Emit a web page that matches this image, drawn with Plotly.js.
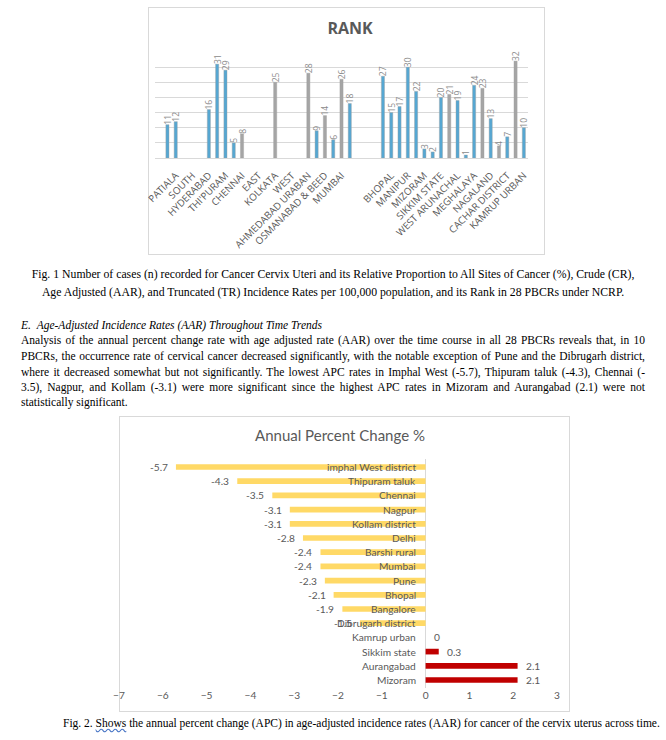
<!DOCTYPE html>
<html>
<head>
<meta charset="utf-8">
<script src="https://cdn.plot.ly/plotly-3.0.1.min.js"></script>
<style>
  html, body { margin:0; padding:0; background:#ffffff; }
  body { width:666px; height:740px; position:relative; overflow:hidden; font-family:"Liberation Serif", "Times New Roman", serif; color:#000; }
  .abs { position:absolute; }
  .frame { position:absolute; border:1px solid #d9d9d9; box-sizing:border-box; pointer-events:none; }
  .txt { position:absolute; font-size:11.5px; line-height:15.5px; white-space:nowrap; }
  .jline { position:absolute; font-size:11.5px; line-height:15.5px; text-align:justify; text-align-last:justify; white-space:normal; }
</style>
</head>
<body>
<div class="frame" style="left:148px;top:7px;width:397px;height:248px;"></div>
<div id="rank" class="abs" style="left:140px;top:7px;width:420px;height:250px;"></div>

<div class="txt" style="left:0;width:666px;top:267px;text-align:center;font-size:11.75px;">Fig. 1 Number of cases (n) recorded for Cancer Cervix Uteri and its Relative Proportion to All Sites of Cancer (%), Crude (CR),</div>
<div class="txt" style="left:0;width:666px;top:285px;text-align:center;font-size:11.75px;">Age Adjusted (AAR), and Truncated (TR) Incidence Rates per 100,000 population, and its Rank in 28 PBCRs under NCRP.</div>

<div class="txt" style="left:21px;top:318px;font-style:italic;">E.&nbsp;&nbsp;Age-Adjusted Incidence Rates (AAR) Throughout Time Trends</div>
<div class="jline" style="left:21px;width:624px;top:333px;">Analysis of the annual percent change rate with age adjusted rate (AAR) over the time course in all 28 PBCRs reveals that, in 10</div>
<div class="jline" style="left:21px;width:624px;top:349px;">PBCRs, the occurrence rate of cervical cancer decreased significantly, with the notable exception of Pune and the Dibrugarh district,</div>
<div class="jline" style="left:21px;width:624px;top:365px;">where it decreased somewhat but not significantly. The lowest APC rates in Imphal West (-5.7), Thipuram taluk (-4.3), Chennai (-</div>
<div class="jline" style="left:21px;width:624px;top:380px;">3.5), Nagpur, and Kollam (-3.1) were more significant since the highest APC rates in Mizoram and Aurangabad (2.1) were not</div>
<div class="txt" style="left:21px;top:395px;">statistically significant.</div>

<div class="frame" style="left:119px;top:416px;width:451px;height:296px;"></div>
<div id="apc" class="abs" style="left:100px;top:416px;width:480px;height:300px;"></div>

<div class="txt" style="left:63px;top:716px;">Fig. 2. <span style="text-decoration:underline wavy #4472c4;">Shows</span> the annual percent change (APC) in age-adjusted incidence rates (AAR) for cancer of the cervix uterus across time.</div>

<script>
// ---------- Chart 1: RANK ----------
const rankSlots = ["", "", "PATIALA", "", "SOUTH", "", "HYDERABAD", "", "THI'PURAM", "", "CHENNAI",
  "", "EAST", "", "KOLKATA", "", "WEST", "", "AHMEDABAD URABAN", "", "OSMANABAD & BEED",
  "", "MUMBAI", "", "", "", "", "", "BHOPAL", "", "MANIPUR",
  "", "MIZORAM", "", "SIKKIM STATE", "", "WEST ARUNACHAL", "", "MEGHALAYA", "", "NAGALAND",
  "", "CACHAR DISTRICT", "", "KAMRUP URBAN"];
const rankValues = [null, 11, 12, null, null, null, 16, 31, 29, 5, 8,
  null, null, null, 25, null, null, null, 28, 9, 14,
  6, 26, 18, null, null, null, 27, 15, 17, 30,
  22, 3, 2, 20, 21, 19, 1, 24, 23, 13,
  4, 7, 32, 10];
const rankGroup = ["", "A", "A", "", "", "", "A", "A", "A", "A", "B",
  "", "", "", "B", "", "", "", "B", "A", "B",
  "A", "B", "A", "", "", "", "A", "A", "A", "A",
  "A", "A", "A", "A", "B", "A", "A", "A", "B", "A",
  "B", "A", "B", "A"];

const groupColor = { A: "#56a7d2", B: "#a5a5a5", "": "#a5a5a5" };
const slotIdx = rankSlots.map((_, i) => i);
const tickIdx = slotIdx.filter(i => rankSlots[i] !== "");

Plotly.newPlot("rank", [{
  type: "bar",
  x: slotIdx,
  y: rankValues,
  width: 0.38,
  marker: { color: rankGroup.map(g => groupColor[g]), line: { color: "#9e9e9e", width: 0.4 } },
  text: rankValues.map(v => v === null ? "" : String(v)),
  textposition: "outside",
  textangle: -90,
  constraintext: "none",
  cliponaxis: false,
  textfont: { family: "Open Sans", size: 8.5, color: "#8a8a8a" },
  hoverinfo: "none"
}], {
  width: 420, height: 250,
  margin: { l: 15, r: 32.3, t: 45.3, b: 98.7 },
  paper_bgcolor: "rgba(0,0,0,0)", plot_bgcolor: "rgba(0,0,0,0)",
  showlegend: false,
  title: { text: "<b>RANK</b>", font: { family: "Open Sans", size: 16, color: "#595959" },
           x: 0.5, xanchor: "center", y: 1 - 21/250, yanchor: "middle", yref: "container" },
  xaxis: { range: [-0.5, rankSlots.length - 0.5], tickmode: "array", tickvals: tickIdx,
           ticktext: tickIdx.map(i => rankSlots[i]), tickangle: -45, showgrid: false, zeroline: false,
           showline: true, linecolor: "#d9d9d9", linewidth: 1, ticks: "", ticklabelstandoff: 7,
           tickfont: { family: "Open Sans", size: 9.8, color: "#595959" } },
  yaxis: { range: [0, 35], dtick: 5, showticklabels: false, gridcolor: "#d9d9d9", gridwidth: 1,
           zeroline: false, showline: false, ticks: "" }
}, { staticPlot: true, displayModeBar: false });

// ---------- Chart 2: Annual Percent Change ----------
const apcCategories = ["imphal West district", "Thipuram taluk", "Chennai", "Nagpur", "Kollam district",
  "Delhi", "Barshi rural", "Mumbai", "Pune", "Bhopal", "Bangalore", "Dibrugarh district",
  "Kamrup urban", "Sikkim state", "Aurangabad", "Mizoram"];
const apcValues = [-5.7, -4.3, -3.5, -3.1, -3.1, -2.8, -2.4, -2.4, -2.3, -2.1, -1.9, -1.5, 0, 0.3, 2.1, 2.1];
const xTicks = [-7, -6, -5, -4, -3, -2, -1, 0, 1, 2, 3];

const labelFont = { family: "Lato", size: 10.2, color: "#595959" };

const catLabels = apcCategories.map(c => ({
  x: 0, y: c, xref: "x", yref: "y", text: c, showarrow: false,
  xanchor: "right", yanchor: "middle", xshift: -8, font: labelFont
}));
const valLabels = apcValues.map((v, i) => ({
  x: v, y: apcCategories[i], xref: "x", yref: "y", text: String(v), showarrow: false,
  xanchor: v < 0 ? "right" : "left", yanchor: "middle", xshift: v < 0 ? -6 : 6, font: labelFont
}));

Plotly.newPlot("apc", [{
  type: "bar",
  orientation: "h",
  y: apcCategories,
  x: apcValues,
  width: 0.4,
  marker: { color: apcValues.map(v => v < 0 ? "#ffd966" : "#c00000") },
  hoverinfo: "none"
}], {
  width: 480, height: 300,
  margin: { l: 19, r: 23, t: 43, b: 28 },
  paper_bgcolor: "rgba(0,0,0,0)", plot_bgcolor: "rgba(0,0,0,0)",
  showlegend: false,
  title: { text: "Annual Percent Change %", font: { family: "Lato", size: 15, color: "#595959" },
           x: 0.5, xanchor: "center", y: 1 - 20/300, yanchor: "middle", yref: "container" },
  xaxis: { range: [-7, 3], tickmode: "array", tickvals: xTicks, showgrid: false,
           zeroline: true, zerolinecolor: "#d9d9d9", zerolinewidth: 1, showline: false, ticks: "",
           tickfont: labelFont },
  yaxis: { type: "category", categoryorder: "array", categoryarray: apcCategories, autorange: "reversed",
           showticklabels: false, showgrid: false, zeroline: false, showline: false, ticks: "" },
  annotations: catLabels.concat(valLabels)
}, { staticPlot: true, displayModeBar: false });
</script>
</body>
</html>
